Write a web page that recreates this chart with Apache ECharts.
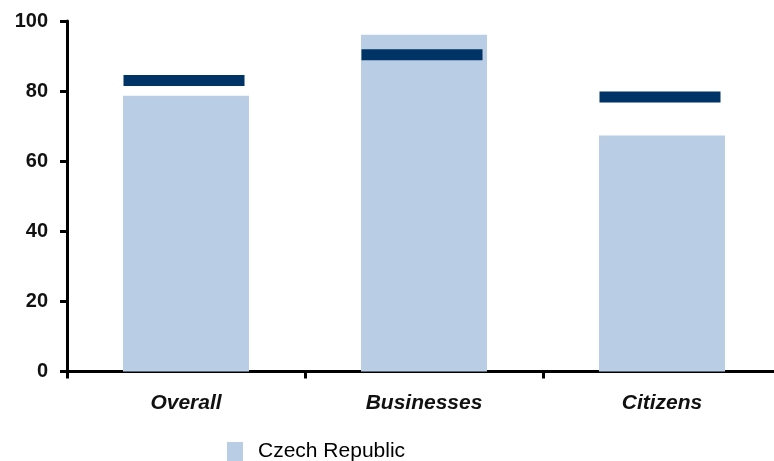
<!DOCTYPE html>
<html>
<head>
<meta charset="utf-8">
<script src="https://cdn.jsdelivr.net/npm/echarts@6/dist/echarts.min.js"></script>
<style>
html,body{margin:0;padding:0;background:#fff;}
#chart{width:774px;height:461px;}
</style>
</head>
<body>
<div id="chart"></div>
<script>
const categories = ['Overall', 'Businesses', 'Citizens'];
const czechValues = [78.7, 96.1, 67.3];
const markerValues = [83.0, 90.4, 78.3];
const yTicks = [0, 20, 40, 60, 80, 100];

const chart = echarts.init(document.getElementById('chart'));
const font = '"Liberation Sans", Arial, sans-serif';
chart.setOption({
  animation: false,
  backgroundColor: '#ffffff',
  grid: { left: 67, top: 21, width: 714, height: 350.5, outerBoundsMode: 'none', containLabel: false },
  legend: {
    data: ['Czech Republic'],
    left: 222, top: 436,
    itemWidth: 16, itemHeight: 19,
    icon: 'rect',
    textStyle: { fontSize: 21, color: '#000', fontFamily: font, padding: [0, 0, 0, 10] }
  },
  xAxis: {
    type: 'category',
    data: categories,
    axisLine: { lineStyle: { color: '#000', width: 3 } },
    axisTick: { show: true, length: 7, lineStyle: { color: '#000', width: 3 } },
    axisLabel: { fontSize: 21, fontStyle: 'italic', fontWeight: 'bold', color: '#111', fontFamily: font, margin: 21 }
  },
  yAxis: {
    type: 'value',
    min: yTicks[0], max: yTicks[yTicks.length - 1], interval: 20,
    splitLine: { show: false },
    axisLine: { show: true, lineStyle: { color: '#000', width: 3 } },
    axisTick: { show: true, length: 7, lineStyle: { color: '#000', width: 3 } },
    axisLabel: { fontSize: 20, fontWeight: 'bold', color: '#111', fontFamily: font, margin: 19 }
  },
  series: [
    {
      name: 'Czech Republic',
      type: 'bar',
      data: czechValues,
      barWidth: 126,
      barGap: '-100%',
      itemStyle: { color: '#B9CDE5' }
    },
    {
      name: 'Marker',
      type: 'scatter',
      data: markerValues,
      symbol: 'rect',
      symbolSize: [121, 11],
      symbolOffset: [-2, 0],
      itemStyle: { color: '#003366', opacity: 1 },
      z: 5
    }
  ]
});
</script>
</body>
</html>
